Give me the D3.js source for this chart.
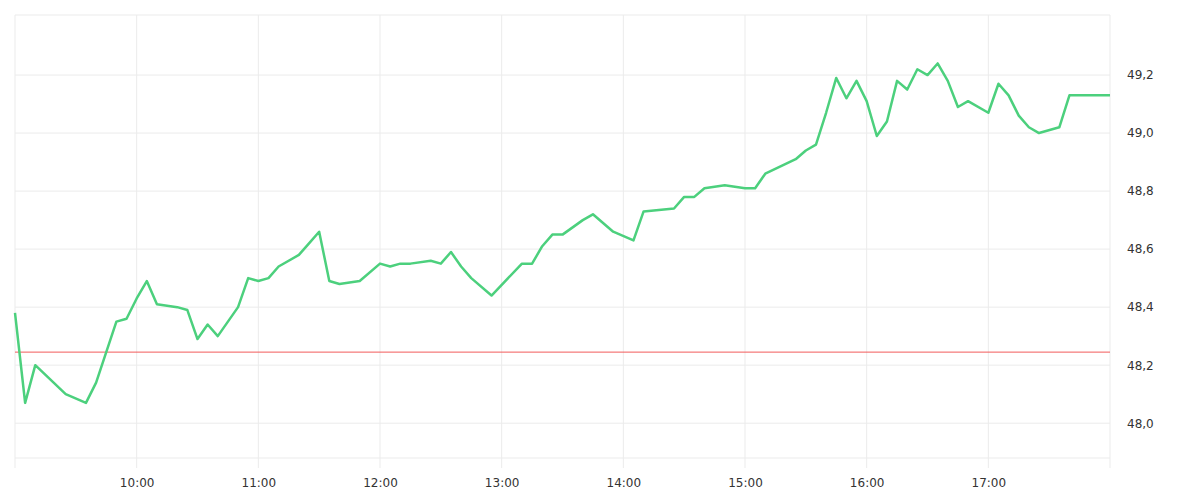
<!DOCTYPE html>
<html><head><meta charset="utf-8">
<script src="https://cdn.jsdelivr.net/npm/d3@7"></script>
<style>body{margin:0;background:#fff}svg text{font-family:"DejaVu Sans",sans-serif;font-size:12px;fill:#333}</style>
</head><body><svg id="c" width="1200" height="500"></svg>
<script>
const minutes=[0,5,10,25,35,40,50,55,60,65,70,80,85,90,95,100,110,115,120,125,130,140,145,150,155,160,170,180,185,190,195,205,210,215,220,225,235,250,255,260,265,270,280,285,290,295,305,310,325,330,335,340,350,360,365,370,385,390,395,400,405,410,415,420,425,430,435,440,445,450,455,460,465,470,480,485,490,495,500,505,515,520,540];
const prices=[48.38,48.07,48.20,48.10,48.07,48.14,48.35,48.36,48.43,48.49,48.41,48.40,48.39,48.29,48.34,48.30,48.40,48.50,48.49,48.50,48.54,48.58,48.62,48.66,48.49,48.48,48.49,48.55,48.54,48.55,48.55,48.56,48.55,48.59,48.54,48.50,48.44,48.55,48.55,48.61,48.65,48.65,48.70,48.72,48.69,48.66,48.63,48.73,48.74,48.78,48.78,48.81,48.82,48.81,48.81,48.86,48.91,48.94,48.96,49.07,49.19,49.12,49.18,49.11,48.99,49.04,49.18,49.15,49.22,49.20,49.24,49.18,49.09,49.11,49.07,49.17,49.13,49.06,49.02,49.00,49.02,49.13,49.13];
const yTicks=[48.0,48.2,48.4,48.6,48.8,49.0,49.2];
const xTicks=["10:00","11:00","12:00","13:00","14:00","15:00","16:00","17:00"];
const refPrice=48.245;
const L=15,R=1110,T=15,B=458;
const svg=d3.select("#c");
const x=d3.scaleLinear().domain([0,540]).range([L,R]);
const y=d3.scaleLinear().domain([47.88,49.407]).range([B,T]);
const tm=s=>(+s.split(":")[0]-9)*60;
const g=svg.append("g");
g.selectAll(".hy").data(yTicks).join("line").attr("x1",L).attr("x2",R).attr("y1",d=>y(d)).attr("y2",d=>y(d)).attr("stroke","#ebebeb");
g.selectAll(".hb").data([T,B]).join("line").attr("x1",L).attr("x2",R).attr("y1",d=>d).attr("y2",d=>d).attr("stroke","#ebebeb");
g.selectAll(".vx").data([0,...xTicks.map(tm),540]).join("line").attr("x1",d=>x(d)).attr("x2",d=>x(d)).attr("y1",T).attr("y2",B+10).attr("stroke","#ebebeb");
const xa=svg.append("g").attr("transform",`translate(0,${B})`).call(d3.axisBottom(x).tickValues(xTicks.map(tm)).tickFormat((d,i)=>xTicks[i]).tickSize(0).tickSizeOuter(0));
xa.select(".domain").remove();
xa.selectAll("text").attr("y",29).attr("dy",0);
const ya=svg.append("g").attr("transform",`translate(${R},0)`).call(d3.axisRight(y).tickValues(yTicks).tickFormat(d=>d.toFixed(1).replace(".",",")).tickSize(0).tickPadding(17));
ya.select(".domain").remove();
svg.selectAll(".tick text").style("font-size","12px").attr("fill","#333");
svg.append("line").attr("x1",L).attr("x2",R).attr("y1",y(refPrice)).attr("y2",y(refPrice)).attr("stroke","#f25a5a").attr("stroke-width",1);
svg.append("path").datum(minutes.map((m,i)=>[m,prices[i]])).attr("fill","none").attr("stroke","#4cd07d").attr("stroke-width",2.5).attr("stroke-linejoin","round")
 .attr("d",d3.line().x(d=>x(d[0])).y(d=>y(d[1])));
</script></body></html>
